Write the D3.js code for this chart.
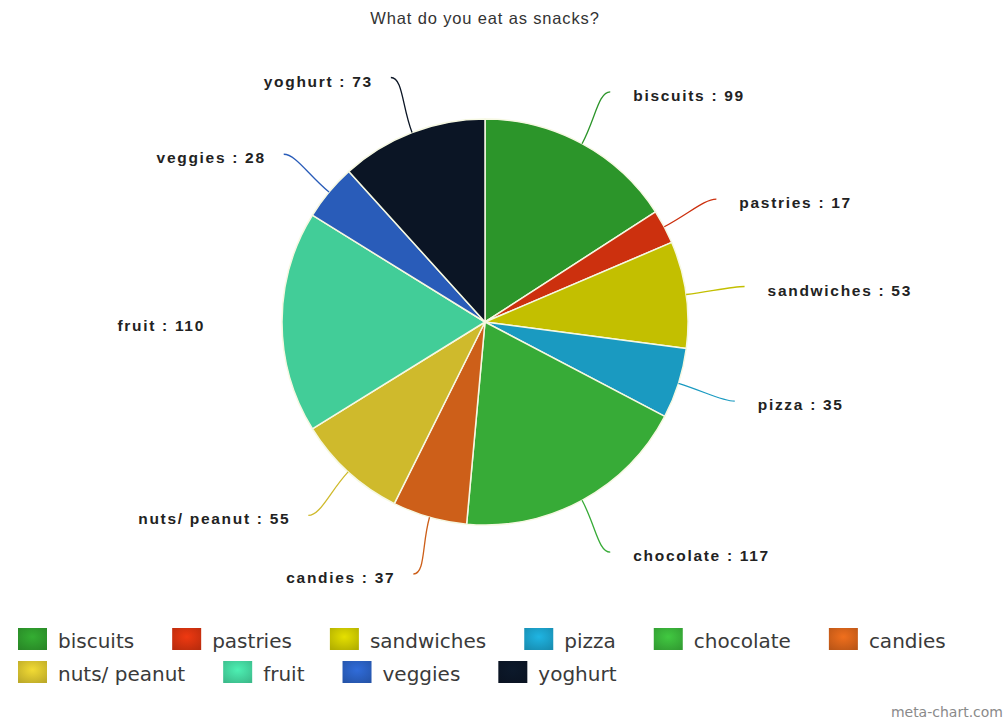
<!DOCTYPE html>
<html>
<head>
<meta charset="utf-8">
<script src="https://cdn.jsdelivr.net/npm/d3@7"></script>
<style>
  html, body { margin: 0; padding: 0; background: #ffffff; }
  svg { display: block; }
</style>
</head>
<body>
<svg id="chart" width="1005" height="721"></svg>
<script>
// Snack survey data
const categories = ["biscuits", "pastries", "sandwiches", "pizza", "chocolate", "candies", "nuts/ peanut", "fruit", "veggies", "yoghurt"];
const values = [99, 17, 53, 35, 117, 37, 55, 110, 28, 73];
const colors = ["#2e9a2c", "#d3320f", "#cac600", "#1ba0c8", "#39b139", "#d4621a", "#d6c12e", "#44d49e", "#2a5fc0", "#0b1626"];
const title = "What do you eat as snacks?";
const credit = "meta-chart.com";
// categories whose data label is drawn without a connector line
const noConnector = ["fruit"];

const W = 1005, H = 721;
const cx = 485, cy = 322, radius = 203, labelRadius = 262;

const svg = d3.select("#chart");
const defs = svg.append("defs");

const data = categories.map((c, i) => ({ name: c, value: values[i], color: colors[i] }));

// soft radial shading for every slice
data.forEach((d, i) => {
  const g = defs.append("radialGradient")
    .attr("id", "slice" + i)
    .attr("gradientUnits", "userSpaceOnUse")
    .attr("cx", cx).attr("cy", cy).attr("r", radius);
  g.append("stop").attr("offset", "0%").attr("stop-color", d3.color(d.color).brighter(0.2));
  g.append("stop").attr("offset", "100%").attr("stop-color", d3.color(d.color).darker(0.1));

  const lg = defs.append("radialGradient").attr("id", "leg" + i)
    .attr("cx", "50%").attr("cy", "40%").attr("r", "70%");
  lg.append("stop").attr("offset", "0%").attr("stop-color", d3.color(d.color).brighter(0.35));
  lg.append("stop").attr("offset", "100%").attr("stop-color", d3.color(d.color).darker(0.35));
});

// title
svg.append("text")
  .attr("x", cx).attr("y", 24)
  .attr("text-anchor", "middle")
  .attr("font-family", "Arial, 'Liberation Sans', sans-serif")
  .attr("font-size", 16.5)
  .attr("letter-spacing", 0.85)
  .attr("fill", "#333")
  .text(title);

const pie = d3.pie().sort(null).value(d => d.value);
const arcs = pie(data);
const arc = d3.arc().innerRadius(0).outerRadius(radius);

const g = svg.append("g").attr("transform", `translate(${cx},${cy})`);

g.selectAll("path.slice")
  .data(arcs)
  .join("path")
  .attr("class", "slice")
  .attr("d", arc)
  .attr("fill", (d, i) => `url(#slice${i})`)
  .attr("stroke", "#f6f8e2")
  .attr("stroke-width", 1.5)
  .attr("stroke-linejoin", "round");

// data labels with curved connectors
function polar(a, r) { return [Math.sin(a) * r, -Math.cos(a) * r]; }

const labels = g.append("g");
arcs.forEach(d => {
  const mid = (d.startAngle + d.endAngle) / 2;
  const side = Math.sin(mid) >= 0 ? 1 : -1;
  const [ex, ey] = polar(mid, radius);
  const [e2x, e2y] = polar(mid, radius + 28);
  const [ax, ay] = polar(mid, labelRadius);

  if (!noConnector.includes(d.data.name)) {
    const p = d3.path();
    p.moveTo(ex, ey);
    p.bezierCurveTo(e2x, e2y, ax - side * 12, ay, ax, ay);
    labels.append("path")
      .attr("d", p.toString())
      .attr("fill", "none")
      .attr("stroke", d3.color(d.data.color).darker(0.1))
      .attr("stroke-width", 1.3);
  }

  labels.append("text")
    .attr("x", side > 0 ? ax + 23 : ax - 18)
    .attr("y", ay + 9)
    .attr("text-anchor", side > 0 ? "start" : "end")
    .attr("font-family", "Arial, 'Liberation Sans', sans-serif")
    .attr("font-weight", "bold")
    .attr("font-size", 15.5)
    .attr("letter-spacing", 1.7)
    .attr("fill", "#222")
    .text(`${d.data.name} : ${d.data.value}`);
});

// legend, flowing left to right and wrapping
const legend = svg.append("g");
const rowTops = [628, 661];
let lx = 18, row = 0;
const maxX = 995;
data.forEach((d, i) => {
  const item = legend.append("g");
  const t = item.append("text")
    .attr("font-family", "'DejaVu Sans', Verdana, sans-serif")
    .attr("font-size", 20)
    .attr("fill", "#3a3a3a")
    .text(d.name);
  const tw = t.node().getComputedTextLength();
  if (lx + 40 + tw > maxX) { row += 1; lx = 18; }
  const top = rowTops[row];
  item.insert("rect", "text")
    .attr("x", lx).attr("y", top)
    .attr("width", 29).attr("height", 22)
    .attr("fill", `url(#leg${i})`);
  t.attr("x", lx + 40).attr("y", top + 20);
  lx = lx + 40 + tw + 38;
});

// credit
svg.append("text")
  .attr("x", 1003).attr("y", 717)
  .attr("text-anchor", "end")
  .attr("font-family", "'DejaVu Sans', Verdana, sans-serif")
  .attr("font-size", 14)
  .attr("fill", "#8a8a8a")
  .text(credit);
</script>
</body>
</html>
